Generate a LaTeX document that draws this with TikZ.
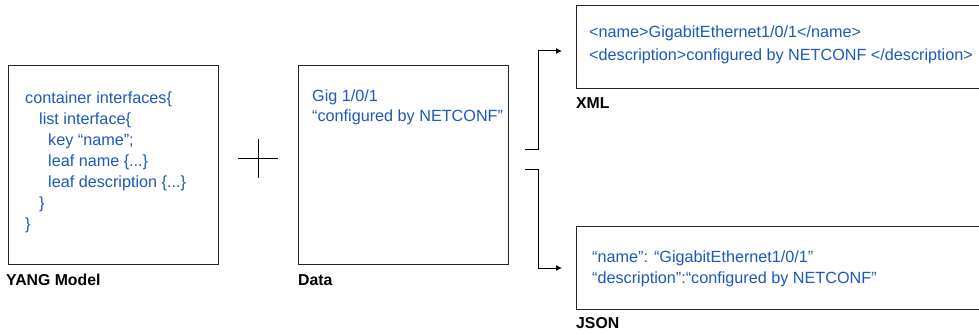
\documentclass[tikz,border=0pt]{standalone}
\usepackage{fontspec}
\setmainfont{Liberation Sans}
\usetikzlibrary{arrows.meta, positioning}
\definecolor{codeblue}{RGB}{28,88,190}

\begin{document}
\begin{tikzpicture}[>={Latex[length=6pt,width=6pt]}, x=1pt, y=-1pt,
  panel/.style={draw=black!85, line width=1.3pt, inner sep=0pt, anchor=north west},
  code/.style={text=codeblue, anchor=north west, inner sep=0pt, align=left},
  caption/.style={font=\fontsize{15.8}{18}\selectfont\bfseries, anchor=north west, inner sep=0pt}]
\clip (0,0) rectangle (979,334);
\path[fill=white] (0,0) rectangle (979,334);

\node[panel, minimum width=210pt, minimum height=199pt] (yang) at (8,65) {};
\node[panel, minimum width=210pt, minimum height=199pt] (data) at (298,65) {};
\node[panel, minimum width=420pt, minimum height=83pt] (xml) at (576,5) {};
\node[panel, minimum width=420pt, minimum height=83pt] (json) at (576,226) {};

\node[code, font=\fontsize{16.2}{21}\selectfont] (yangtext) at (25,92)
  {container interfaces\{\\
   \hspace*{14pt}list interface\{\\
   \hspace*{23pt}key “name”;\\
   \hspace*{23pt}leaf name \{...\}\\
   \hspace*{23pt}leaf description \{...\}\\
   \hspace*{14pt}\}\\
   \}};
\node[code, font=\fontsize{16.2}{20}\selectfont] (datatext) at (312,90)
  {Gig 1/0/1\\ “configured by NETCONF”};
\node[code, font=\fontsize{16.2}{23}\selectfont] (xmltext) at (589,26)
  {<name>GigabitEthernet1/0/1</name>\\
   <description>configured by NETCONF </description>};
\node[code, font=\fontsize{16.2}{21}\selectfont] (jsontext) at (592,251)
  {“name”: “GigabitEthernet1/0/1”\\
   “description”:“configured by NETCONF”};

\node[caption] (yanglabel) at (6,274) {YANG Model};
\node[caption] (datalabel) at (298,274) {Data};
\node[caption] (xmllabel) at (576,97) {XML};
\node[caption] (jsonlabel) at (576,317) {JSON};

\draw[line width=1pt] (238,158) -- (278,158) (258,139) -- (258,178);

\coordinate (upout) at (525,149);
\coordinate (downout) at (525,169);
\coordinate (xmlin) at (562,51);
\coordinate (jsonin) at (562,268);
\draw[->, line width=1pt] (upout) -- (538,149) |- (xmlin);
\draw[->, line width=1pt] (downout) -- (538,169) |- (jsonin);
\end{tikzpicture}
\end{document}
